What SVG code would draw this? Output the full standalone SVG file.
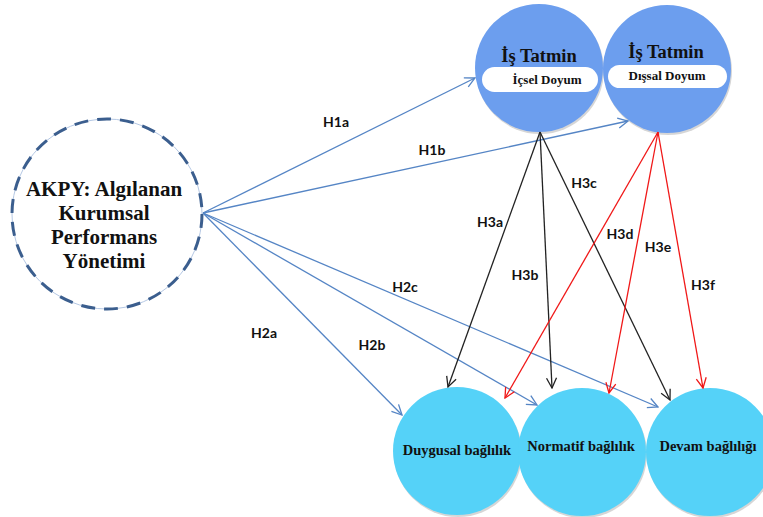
<svg xmlns="http://www.w3.org/2000/svg" width="763" height="517" viewBox="0 0 763 517">
<defs>
<style>
.title{font-family:"Liberation Serif","Times New Roman",serif;font-weight:bold;fill:#111;text-anchor:middle}
.lbl{font-family:Lato,"Liberation Sans",sans-serif;font-weight:bold;font-size:14px;fill:#111;text-anchor:middle}
.blue{stroke:#5585C5;stroke-width:1.3;fill:none;marker-end:url(#ab)}
.black{stroke:#222;stroke-width:1.3;fill:none;marker-end:url(#ak)}
.red{stroke:#F01818;stroke-width:1.3;fill:none;marker-end:url(#ar)}
.top{fill:#6C9EEE}
.bot{fill:#55D2F8}
.shadow{fill:#8A8A8A;opacity:0.35}
.pill{fill:#fff}
</style>
<marker id="ab" viewBox="0 0 12 12" refX="11" refY="6" markerWidth="12" markerHeight="12" markerUnits="userSpaceOnUse" orient="auto"><path d="M1,1 L11,6 L1,11" fill="none" stroke="#5585C5" stroke-width="1.3"/></marker>
<marker id="ak" viewBox="0 0 12 12" refX="11" refY="6" markerWidth="12" markerHeight="12" markerUnits="userSpaceOnUse" orient="auto"><path d="M1,1 L11,6 L1,11" fill="none" stroke="#222" stroke-width="1.3"/></marker>
<marker id="ar" viewBox="0 0 12 12" refX="11" refY="6" markerWidth="12" markerHeight="12" markerUnits="userSpaceOnUse" orient="auto"><path d="M1,1 L11,6 L1,11" fill="none" stroke="#F01818" stroke-width="1.3"/></marker>
</defs>
<rect width="763" height="517" fill="#fff"/>

<g id="akpy">
<circle cx="107" cy="214" r="95" fill="#fff" stroke="#B5C8E4" stroke-width="1"/>
<circle cx="107" cy="214" r="95" fill="none" stroke="#3B5E8E" stroke-width="3" stroke-dasharray="14 9"/>
<text class="title" font-size="21" x="104" y="196">AKPY: Algılanan</text>
<text class="title" font-size="21" x="104" y="220">Kurumsal</text>
<text class="title" font-size="21" x="104" y="244">Performans</text>
<text class="title" font-size="21" x="104" y="268">Yönetimi</text>
</g>

<g id="is-tatmin-icsel">
<circle class="shadow" cx="540" cy="70" r="64"/>
<circle class="top" cx="539" cy="68" r="64"/>
<text class="title" font-size="18.5" x="539" y="62">İş Tatmin</text>
<rect class="pill" x="482" y="67" width="116" height="25" rx="12.5"/>
<text class="title" font-size="13" x="547" y="84">İçsel Doyum</text>
</g>

<g id="is-tatmin-dissal">
<circle class="shadow" cx="668" cy="71" r="64"/>
<circle class="top" cx="667" cy="69" r="64"/>
<text class="title" font-size="18.5" x="666" y="58">İş Tatmin</text>
<rect class="pill" x="608" y="65" width="119" height="23" rx="11.5"/>
<text class="title" font-size="13" x="667" y="80">Dışsal Doyum</text>
</g>

<g id="duygusal">
<circle class="shadow" cx="458" cy="453" r="64"/>
<circle class="bot" cx="457" cy="451" r="64"/>
<text class="title" font-size="14.5" x="457" y="455">Duygusal bağlılık</text>
</g>

<g id="normatif">
<circle class="shadow" cx="583" cy="454" r="64"/>
<circle class="bot" cx="582" cy="452" r="64"/>
<text class="title" font-size="14.5" x="581" y="451">Normatif bağlılık</text>
</g>

<g id="devam">
<circle class="shadow" cx="711" cy="454" r="64"/>
<circle class="bot" cx="710" cy="452" r="64"/>
<text class="title" font-size="14.5" x="708" y="451">Devam bağlılığı</text>
</g>

<g id="connectors">
<line class="blue" x1="203" y1="213" x2="475" y2="78"/>
<line class="blue" x1="203" y1="213" x2="628" y2="121"/>
<line class="blue" x1="203" y1="213" x2="402" y2="415"/>
<line class="blue" x1="203" y1="213" x2="537" y2="405"/>
<line class="blue" x1="203" y1="213" x2="658" y2="407"/>
<line class="black" x1="540" y1="132" x2="448" y2="387"/>
<line class="black" x1="540" y1="132" x2="552" y2="388"/>
<line class="black" x1="540" y1="132" x2="670" y2="400"/>
<line class="red" x1="658" y1="132" x2="505" y2="398"/>
<line class="red" x1="658" y1="132" x2="609" y2="393"/>
<line class="red" x1="658" y1="132" x2="703" y2="388"/>
</g>

<g id="labels">
<text class="lbl" x="336" y="127">H1a</text>
<text class="lbl" x="432" y="155">H1b</text>
<text class="lbl" x="490" y="227">H3a</text>
<text class="lbl" x="525" y="280">H3b</text>
<text class="lbl" x="584" y="188">H3c</text>
<text class="lbl" x="620" y="239">H3d</text>
<text class="lbl" x="658" y="252">H3e</text>
<text class="lbl" x="703" y="290">H3f</text>
<text class="lbl" x="405" y="292">H2c</text>
<text class="lbl" x="264" y="338">H2a</text>
<text class="lbl" x="372" y="350">H2b</text>
</g>
</svg>
